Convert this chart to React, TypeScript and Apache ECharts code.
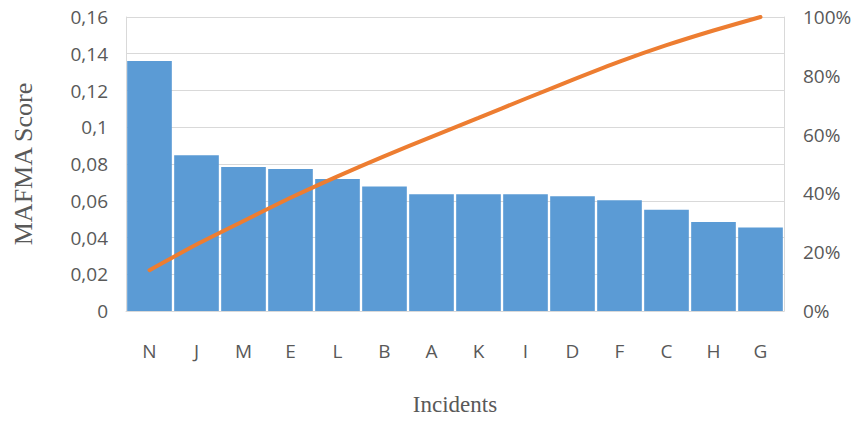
import React, { useEffect, useRef } from "react";
import * as echarts from "echarts";

const categories = ["N", "J", "M", "E", "L", "B", "A", "K", "I", "D", "F", "C", "H", "G"];
const scores = [0.136, 0.0847, 0.0784, 0.0773, 0.0719, 0.0678, 0.0635, 0.0635, 0.0635, 0.0625, 0.0603, 0.0551, 0.0485, 0.0455];
const cumulative = [0.139, 0.226, 0.306, 0.385, 0.458, 0.527, 0.592, 0.657, 0.722, 0.786, 0.848, 0.904, 0.954, 1.0];

export default function App() {
  const ref = useRef<HTMLDivElement>(null);
  useEffect(() => {
    if (!ref.current) return;
    const chart = echarts.init(ref.current, undefined, { renderer: "svg" });
    const labelColor = "#595959";
    const sans = "'Open Sans', sans-serif";
    const serif = "'Liberation Serif', serif";
    chart.setOption({
      animation: false,
      backgroundColor: "#ffffff",
      grid: { left: 126, right: 81, top: 17, bottom: 106, containLabel: false },
      xAxis: {
        type: "category",
        data: categories,
        name: "Incidents",
        nameLocation: "middle",
        nameGap: 82,
        nameTextStyle: { fontFamily: serif, fontSize: 23, color: labelColor },
        axisLine: { show: true, lineStyle: { color: "#d9d9d9", width: 1 } },
        axisTick: { show: false },
        axisLabel: { color: labelColor, fontFamily: sans, fontSize: 19, margin: 30 },
      },
      yAxis: [
        {
          type: "value",
          min: 0,
          max: 0.16,
          interval: 0.02,
          name: "MAFMA Score",
          nameLocation: "middle",
          nameGap: 90,
          nameTextStyle: { fontFamily: serif, fontSize: 26, color: labelColor },
          axisLine: { show: true, lineStyle: { color: "#d9d9d9" } },
          axisTick: { show: false },
          splitLine: { show: true, lineStyle: { color: "#d9d9d9", width: 1 } },
          axisLabel: {
            color: labelColor,
            fontFamily: sans,
            fontSize: 19,
            margin: 18,
            padding: [6, 0, 0, 0],
            formatter: (v: number) => (v === 0 ? "0" : String(parseFloat(v.toFixed(2))).replace(".", ",")),
          },
        },
        {
          type: "value",
          min: 0,
          max: 1,
          interval: 0.2,
          position: "right",
          axisLine: { show: true, lineStyle: { color: "#d9d9d9" } },
          axisTick: { show: false },
          splitLine: { show: false },
          axisLabel: {
            color: labelColor,
            fontFamily: sans,
            fontSize: 19,
            margin: 19,
            padding: [6, 0, 0, 0],
            formatter: (v: number) => Math.round(v * 100) + "%",
          },
        },
      ],
      series: [
        {
          type: "bar",
          data: scores,
          yAxisIndex: 0,
          barCategoryGap: "5%",
          itemStyle: { color: "#5B9BD5" },
        },
        {
          type: "line",
          data: cumulative,
          yAxisIndex: 1,
          smooth: 0.2,
          symbol: "none",
          lineStyle: { color: "#ED7D31", width: 4, cap: "round" },
        },
      ],
    });
    return () => chart.dispose();
  }, []);
  return (
    <div
      ref={ref}
      style={{ position: "fixed", left: 0, top: 0, width: 865, height: 421 }}
    />
  );
}
